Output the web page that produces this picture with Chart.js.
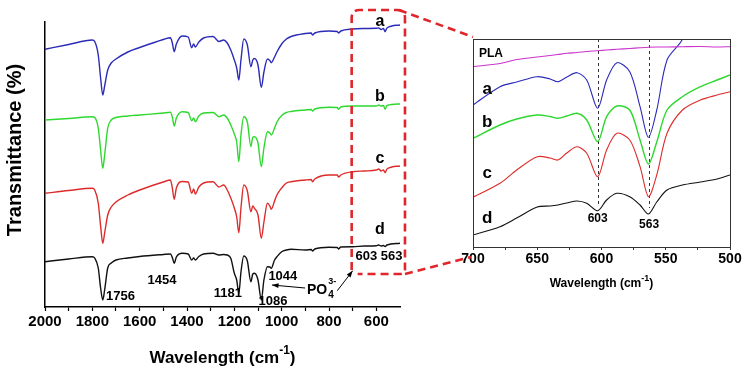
<!DOCTYPE html>
<html>
<head>
<meta charset="utf-8">
<script src="https://cdn.jsdelivr.net/npm/chart.js@4.4.0/dist/chart.umd.min.js"></script>
<style>
html, body { margin: 0; padding: 0; background: #fff; }
#wrap { position: relative; width: 748px; height: 374px; }
#wrap canvas { position: absolute; left: 0; top: 0; }
</style>
</head>
<body>
<div id="wrap">
  <canvas id="full" width="748" height="374"></canvas>
  <canvas id="zoom" width="748" height="374"></canvas>
</div>
<script>
// full range spectra, wavenumber (cm-1) and offset transmittance (arb.)
const wnFull = [2000, 1900, 1800, 1790, 1775, 1765, 1756, 1748, 1735, 1720, 1700, 1650, 1600, 1500, 1470, 1462, 1454, 1445, 1420, 1395,
  1380, 1372, 1365, 1350, 1330, 1290, 1265, 1245, 1230, 1215, 1200, 1190, 1181, 1172, 1160, 1145, 1130, 1122, 1115, 1100,
  1086, 1075, 1060, 1050, 1044, 1030, 1020, 1000, 980, 960, 900, 875, 870, 860, 800, 765, 760, 750, 700, 650,
  600, 590, 580, 570, 563, 555, 500];
const fullA = [257.7, 262.5, 267, 265.5, 252, 229, 212, 221, 237, 244, 248, 255, 259.5, 267.5, 269.3, 264, 255.3, 263, 271, 270,
  259.3, 263, 260, 265, 269, 270.5, 265.5, 267, 264, 257, 247, 239, 227, 247, 268, 262, 240.3, 247, 248.5, 242,
  219.7, 235, 248, 246.5, 244.3, 250, 255, 263, 268, 270.5, 273.5, 274, 272, 274, 276, 275.5, 274, 276, 278, 278.5,
  278.7, 279, 277.5, 278.5, 275.3, 279, 282];
const fullB = [187, 188.5, 190.3, 189.5, 179, 157, 138.7, 152, 179, 187, 189.5, 191, 192, 194, 194.7, 190, 181, 189, 195.3, 194.5,
  186.3, 189, 185.3, 191, 194, 194.5, 190.3, 192, 189, 182, 173, 165, 145.3, 172, 190.3, 185, 160.3, 170, 170.3, 164,
  140.3, 159, 175.3, 174, 172, 179, 185, 191.5, 194.5, 195.5, 197, 197.5, 196, 198, 199.7, 199.5, 197.7, 200, 201, 201,
  201, 202, 201, 201.5, 197.7, 201.5, 203];
const fullC = [113.7, 116.5, 118.7, 117, 104, 81, 63.7, 74, 92, 100, 105, 112, 117, 125, 127, 119, 107.7, 119, 125.5, 125,
  113.7, 118, 113, 120, 124, 125.3, 120, 122, 117, 109, 99, 90, 74.3, 99, 122, 116, 95.3, 101, 98.7, 92,
  68.7, 85, 103.7, 101, 97.7, 106, 112, 119, 124, 125.3, 127, 127.5, 125.3, 128, 132, 132, 130, 132, 135.3, 136,
  137, 138, 136, 137, 134.3, 138, 141];
const fullD = [45.3, 48, 50.3, 49, 39, 19, 7, 17, 39, 44, 47, 49, 50.5, 52.5, 53, 49.5, 43.7, 50, 53.7, 53,
  47, 49, 47, 50.5, 53, 53.7, 52, 52.5, 52, 48.7, 33.7, 27, 13.7, 35, 51, 46, 25.3, 33, 33.7, 27,
  7, 27, 40.3, 40, 38.7, 47, 50.3, 55.3, 57, 57.7, 57, 57.5, 56, 58, 59.7, 59.5, 58, 60, 60.3, 61,
  61.3, 62, 61, 61.5, 60.5, 62, 63.7];
const fullTicks = [2000, 1900, 1800, 1700, 1600, 1500, 1400, 1300, 1200, 1100, 1000, 900, 800, 700, 600];

// 700-500 cm-1 detail
const wnZoom = [700, 679, 666, 650, 640, 634, 627, 619, 611.5, 603, 596, 588, 578, 570, 563.5, 557, 549, 537, 523, 510, 500];
const zoomPLA = [180.3, 183.5, 187.5, 190, 191.5, 192.5, 193.7, 194.5, 195.5, 196.3, 197, 197.7, 198.5, 199.2, 199.7, 200, 200, 200.3, 200.5, 200, 200.3];
const zoomA = [142, 160.3, 165, 170.3, 168, 165.3, 170, 174.3, 167, 138.7, 167, 184.3, 175.3, 140.3, 109.7, 137, 187, 207.7, 257, 287, 307];
const zoomB = [108.7, 122, 128, 132, 130.5, 128.7, 131, 133.7, 127, 105.3, 130.3, 141, 137, 107, 83, 105, 137, 150.3, 160.3, 167, 172];
const zoomC = [49.7, 63.7, 77, 90.3, 89, 87, 94, 100.3, 93.7, 70.3, 97, 113.7, 107, 80.3, 50.3, 72, 113.7, 137, 147, 152, 155.3];
const zoomD = [12, 20.3, 29, 40, 41, 42, 44, 46, 43.7, 36.3, 47, 53.7, 50.3, 42, 33, 45, 57, 62, 65, 68, 72];
const zoomTicks = [700, 675, 650, 625, 600, 575, 550, 525, 500];
const markedPeaks = [603, 563];

const FONT = '"Liberation Sans", Arial, sans-serif';
const BLUE = '#2b2bb8', GREEN = '#2ed82e', RED = '#dd2b2b', BLACK = '#111', MAGENTA = '#cc33cc', DASHRED = '#e0262b';

function pairs(xs, ys) { return xs.map((x, i) => ({ x: x, y: ys[i] })); }

function line(label, xs, ys, color, w, smooth) {
  const ds = { label: label, data: pairs(xs, ys), borderColor: color, borderWidth: w, pointRadius: 0, fill: false };
  if (smooth) { ds.tension = smooth; } else { ds.cubicInterpolationMode = 'monotone'; }
  return ds;
}

function text(ctx, str, x, y, size, align) {
  ctx.font = 'bold ' + size + 'px ' + FONT;
  ctx.textAlign = align || 'center';
  ctx.textBaseline = 'middle';
  ctx.fillStyle = '#000';
  ctx.fillText(str, x, y);
}

// "Wavelength (cm-1)" with a real superscript
function waveTitle(ctx, cx, cy, size) {
  const base = 'Wavelength (cm', sup = '-1', tail = ')';
  ctx.font = 'bold ' + size + 'px ' + FONT;
  const w1 = ctx.measureText(base).width, w3 = ctx.measureText(tail).width;
  ctx.font = 'bold ' + Math.round(size * 0.72) + 'px ' + FONT;
  const w2 = ctx.measureText(sup).width;
  let x = cx - (w1 + w2 + w3) / 2;
  text(ctx, base, x, cy, size, 'left'); x += w1;
  text(ctx, sup, x, cy - size * 0.42, Math.round(size * 0.72), 'left'); x += w2;
  text(ctx, tail, x, cy, size, 'left');
}

function arrow(ctx, x1, y1, x2, y2) {
  const ang = Math.atan2(y2 - y1, x2 - x1);
  ctx.save();
  ctx.strokeStyle = '#000'; ctx.fillStyle = '#000'; ctx.lineWidth = 1;
  ctx.beginPath(); ctx.moveTo(x1, y1); ctx.lineTo(x2, y2); ctx.stroke();
  ctx.beginPath();
  ctx.moveTo(x2, y2);
  ctx.lineTo(x2 - 7 * Math.cos(ang - 0.35), y2 - 7 * Math.sin(ang - 0.35));
  ctx.lineTo(x2 - 7 * Math.cos(ang + 0.35), y2 - 7 * Math.sin(ang + 0.35));
  ctx.closePath(); ctx.fill();
  ctx.restore();
}

// peak labels and curve names on the full panel, in data units
const fullNotes = [
  { t: '1756', x: 1742, y: 10.3, s: 13, a: 'left' },
  { t: '1454', x: 1506, y: 26.3, s: 13 },
  { t: '1181', x: 1227, y: 14, s: 13 },
  { t: '1086', x: 1037, y: 6, s: 13 },
  { t: '1044', x: 995, y: 31, s: 13 },
  { t: '603 563', x: 589, y: 51, s: 13 },
  { t: 'a', x: 585, y: 285.3, s: 16 },
  { t: 'b', x: 585, y: 210.3, s: 16 },
  { t: 'c', x: 585, y: 148.7, s: 16 },
  { t: 'd', x: 585, y: 77, s: 16 }
];

const fullDecor = {
  id: 'fullDecor',
  afterDraw(chart) {
    const ctx = chart.ctx, xs = chart.scales.x, ys = chart.scales.y, ca = chart.chartArea;
    fullNotes.forEach(n => text(ctx, n.t, xs.getPixelForValue(n.x), ys.getPixelForValue(n.y), n.s, n.a));
    // PO4 3- label
    const px = xs.getPixelForValue(893), py = ys.getPixelForValue(17);
    ctx.font = 'bold 14px ' + FONT;
    const wPO = ctx.measureText('PO').width;
    text(ctx, 'PO', px, py, 14, 'left');
    text(ctx, '4', px + wPO + 1, py + 5, 10, 'left');
    text(ctx, '3-', px + wPO + 1, py - 8, 9, 'left');
    arrow(ctx, xs.getPixelForValue(901), ys.getPixelForValue(19), xs.getPixelForValue(1041), ys.getPixelForValue(22));
    arrow(ctx, xs.getPixelForValue(765), ys.getPixelForValue(16.3), xs.getPixelForValue(700), ys.getPixelForValue(36.3));
    // axis titles
    waveTitle(ctx, (ca.left + ca.right) / 2, 358, 17);
    ctx.save();
    ctx.translate(15, 150);
    ctx.rotate(-Math.PI / 2);
    text(ctx, 'Transmittance (%)', 0, 0, 20);
    ctx.restore();
  }
};

const fullChart = new Chart(document.getElementById('full'), {
  type: 'line',
  data: {
    datasets: [
      line('a', wnFull, fullA, BLUE, 1.4),
      line('b', wnFull, fullB, GREEN, 1.4),
      line('c', wnFull, fullC, RED, 1.4),
      line('d', wnFull, fullD, BLACK, 1.4)
    ]
  },
  options: {
    responsive: false,
    animation: false,
    layout: { padding: { top: 22, right: 348, left: 0, bottom: 0 } },
    plugins: { legend: { display: false }, tooltip: { enabled: false } },
    scales: {
      x: {
        type: 'linear', min: 500, max: 2000, reverse: true,
        afterBuildTicks: s => { s.ticks = fullTicks.map(v => ({ value: v })); },
        afterFit: s => { s.height = 67; },
        ticks: { autoSkip: false, maxRotation: 0, padding: 2, color: '#000', font: { family: FONT, size: 15, weight: 'bold' },
          callback: v => (v % 200 === 0 ? v : '') },
        grid: { drawOnChartArea: false, tickLength: 4, tickColor: '#000', tickWidth: 1.2 },
        border: { color: '#000', width: 1.5 }
      },
      y: {
        min: 0, max: 285,
        afterFit: s => { s.width = 45; },
        ticks: { display: false },
        grid: { display: false },
        border: { color: '#000', width: 1.5 }
      }
    }
  },
  plugins: [fullDecor]
});

const zoomNotes = [
  { t: 'PLA', x: 695.3, y: 193, s: 12, a: 'left' },
  { t: 'a', x: 689, y: 158, s: 17 },
  { t: 'b', x: 689, y: 125, s: 17 },
  { t: 'c', x: 689, y: 74, s: 17 },
  { t: 'd', x: 689, y: 29, s: 17 },
  { t: '603', x: 603, y: 28, s: 12 },
  { t: '563', x: 563, y: 22, s: 12 }
];

const zoomDecor = {
  id: 'zoomDecor',
  beforeDatasetsDraw(chart) {
    const ctx = chart.ctx, xs = chart.scales.x, ys = chart.scales.y, ca = chart.chartArea;
    ctx.save();
    ctx.strokeStyle = '#333'; ctx.lineWidth = 1; ctx.setLineDash([3, 3]);
    markedPeaks.forEach(p => {
      const i = wnZoom.findIndex(w => Math.abs(w - p) < 1);
      const x = Math.round(xs.getPixelForValue(p)) + 0.5;
      ctx.beginPath(); ctx.moveTo(x, ca.top); ctx.lineTo(x, ys.getPixelForValue(zoomD[i]) - 6); ctx.stroke();
    });
    ctx.restore();
  },
  afterDraw(chart) {
    const ctx = chart.ctx, xs = chart.scales.x, ys = chart.scales.y, ca = chart.chartArea;
    ctx.save();
    ctx.strokeStyle = '#333'; ctx.lineWidth = 1;
    ctx.strokeRect(ca.left + 0.5, ca.top + 0.5, ca.right - ca.left, ca.bottom - ca.top);
    ctx.restore();
    zoomNotes.forEach(n => text(ctx, n.t, xs.getPixelForValue(n.x), ys.getPixelForValue(n.y), n.s, n.a));
    waveTitle(ctx, (ca.left + ca.right) / 2, 284, 12);

    // red dashed frame around 700-500 on the full panel and the connectors
    const fx = fullChart.scales.x, fy = fullChart.scales.y;
    const L = fx.getPixelForValue(700) - 1, R = fx.getPixelForValue(479), T = fy.getPixelForValue(297), B = fy.getPixelForValue(33);
    ctx.save();
    ctx.strokeStyle = DASHRED; ctx.lineWidth = 2.6; ctx.setLineDash([8, 5]);
    ctx.beginPath();
    ctx.moveTo(L, B - 4);
    ctx.lineTo(L, T + 8);
    ctx.quadraticCurveTo(L, T, L + 8, T);
    ctx.lineTo(R - 8, T);
    ctx.quadraticCurveTo(R, T, R, T + 8);
    ctx.lineTo(R, B - 4);
    ctx.quadraticCurveTo(R, B, R - 6, B);
    ctx.lineTo(L + 6, B);
    ctx.stroke();
    ctx.beginPath();
    ctx.moveTo(R - 6, T); ctx.lineTo(ca.left, ca.top - 2);
    ctx.moveTo(R, B); ctx.lineTo(ca.left - 2, ca.bottom + 10);
    ctx.stroke();
    ctx.restore();
  }
};

const zoomChart = new Chart(document.getElementById('zoom'), {
  type: 'line',
  data: {
    datasets: [
      line('PLA', wnZoom, zoomPLA, MAGENTA, 1.1, 0.3),
      line('a', wnZoom, zoomA, BLUE, 1.1, 0.3),
      line('b', wnZoom, zoomB, GREEN, 1.4, 0.3),
      line('c', wnZoom, zoomC, RED, 1.1, 0.3),
      line('d', wnZoom, zoomD, BLACK, 1.1, 0.3)
    ]
  },
  options: {
    responsive: false,
    animation: false,
    layout: { padding: { top: 39, right: 18, left: 440, bottom: 0 } },
    plugins: { legend: { display: false }, tooltip: { enabled: false } },
    scales: {
      x: {
        type: 'linear', min: 500, max: 700, reverse: true,
        afterBuildTicks: s => { s.ticks = zoomTicks.map(v => ({ value: v })); },
        afterFit: s => { s.height = 127; },
        ticks: { autoSkip: false, maxRotation: 0, padding: 1, color: '#000', font: { family: FONT, size: 14, weight: 'bold' },
          callback: v => (v % 50 === 0 ? v : '') },
        grid: { drawOnChartArea: false, tickLength: 3, tickColor: '#333' },
        border: { color: '#333', width: 1 }
      },
      y: {
        min: 0, max: 208,
        afterFit: s => { s.width = 33; },
        ticks: { display: false },
        grid: { display: false },
        border: { color: '#333', width: 1 }
      }
    }
  },
  plugins: [zoomDecor]
});
</script>
</body>
</html>
